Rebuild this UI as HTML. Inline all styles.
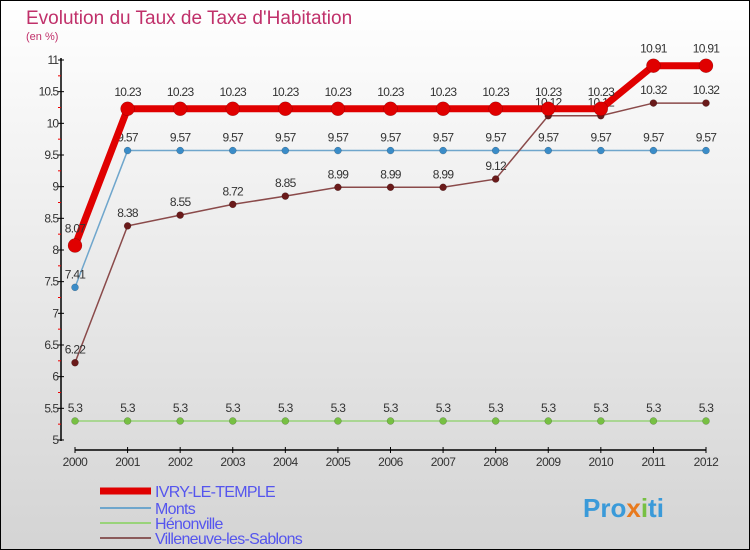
<!DOCTYPE html>
<html><head><meta charset="utf-8"><style>
body{margin:0}
svg{display:block;font-family:"Liberation Sans",sans-serif}
</style></head><body>
<svg id="c" width="750" height="550" xmlns="http://www.w3.org/2000/svg">
<defs><linearGradient id="bg" x1="0" y1="0" x2="0" y2="1"><stop offset="0" stop-color="#ffffff"/><stop offset="1" stop-color="#d4d4d4"/></linearGradient></defs>
<rect x="0.5" y="0.5" width="749" height="549" fill="url(#bg)" stroke="#000"/>
<text x="26" y="24" font-size="19" fill="#c0306a">Evolution du Taux de Taxe d'Habitation</text>
<text x="26" y="40" font-size="11" fill="#c0306a">(en %)</text>
<g id="axes"></g><g id="series"></g><g id="legend"></g>
<text x="583" y="517" font-size="26" font-weight="bold" fill="#3a9ad9">Pro<tspan fill="#e87a1e">x</tspan><tspan fill="#77c043">i</tspan>ti</text>
</svg>
<script>
const years=[2000,2001,2002,2003,2004,2005,2006,2007,2008,2009,2010,2011,2012];
const ivry=[8.07,10.23,10.23,10.23,10.23,10.23,10.23,10.23,10.23,10.23,10.23,10.91,10.91];
const monts=[7.41,9.57,9.57,9.57,9.57,9.57,9.57,9.57,9.57,9.57,9.57,9.57,9.57];
const henon=[5.3,5.3,5.3,5.3,5.3,5.3,5.3,5.3,5.3,5.3,5.3,5.3,5.3];
const ville=[6.22,8.38,8.55,8.72,8.85,8.99,8.99,8.99,9.12,10.12,10.12,10.32,10.32];
const yTicks=[5,5.5,6,6.5,7,7.5,8,8.5,9,9.5,10,10.5,11];
const NS="http://www.w3.org/2000/svg";
const X=i=>75+i*(706-75)/12, Y=v=>60+(11-v)*63.33;
function mk(t,a,p){const e=document.createElementNS(NS,t);for(const k in a)e.setAttribute(k,a[k]);p.appendChild(e);return e;}
const ax=document.getElementById('axes');
let e=mk('line',{x1:61,y1:58,x2:61,y2:441,stroke:'#000','stroke-width':1.5},ax);

e=mk('line',{x1:75,y1:450,x2:706,y2:450,stroke:'#000','stroke-width':1.5},ax);

yTicks.forEach(v=>{mk('line',{x1:58,y1:Y(v),x2:64,y2:Y(v),stroke:'#000'},ax);
 if(v<11)mk('line',{x1:58,y1:Y(v+0.25),x2:61,y2:Y(v+0.25),stroke:'#e00'},ax);
 e=mk('text',{x:58,y:Y(v)+4,'font-size':12,'text-anchor':'end',fill:'#333','letter-spacing':'-1'},ax);e.textContent=v;
 });
years.forEach((y,i)=>{mk('line',{x1:X(i),y1:447,x2:X(i),y2:453,stroke:'#000'},ax);
 e=mk('text',{x:X(i),y:466,'font-size':12,'text-anchor':'middle',fill:'#333','letter-spacing':'-0.5'},ax);e.textContent=y;
 });
const sg=document.getElementById('series'),lg=document.getElementById('legend');
const defs=[['Monts',monts,'#6fa6cc','#3a8cc8',1.5,3.5,'monts'],['Hénonville',henon,'#99d37a','#77c043',1.5,3.5,'henonville'],['Villeneuve-les-Sablons',ville,'#8a4a4a','#6a1a1a',1.5,3.5,'villeneuve'],['IVRY-LE-TEMPLE',ivry,'#e00000','#e00000',7,7,'ivry']];
defs.forEach(([n,d,lc,pc,w,r,k])=>{
 const g=mk('g',{},sg);
 e=mk('polyline',{points:d.map((v,i)=>X(i)+','+Y(v)).join(' '),fill:'none',stroke:lc,'stroke-width':w},g);
 
 d.forEach((v,i)=>{e=mk('circle',{cx:X(i),cy:Y(v),r:r,fill:pc,stroke:'rgba(0,0,0,0.3)','stroke-width':0.5},g);
  
  e=mk('text',{x:X(i),y:Y(v)-(k=='ivry'?13:9),'font-size':12,'text-anchor':'middle',fill:'#333','letter-spacing':'-0.7'},g);e.textContent=v;
  });
});
const leg=[['IVRY-LE-TEMPLE','#e00000',7,491],['Monts','#6fa6cc',2,508],['Hénonville','#99d37a',2,523],['Villeneuve-les-Sablons','#8a5a5a',2,538]];
leg.forEach(([n,c,w,y])=>{const g=mk('g',{},lg);
 mk('line',{x1:100,y1:y,x2:151,y2:y,stroke:c,'stroke-width':w},g);
 e=mk('text',{x:155,y:y+6,'font-size':16,fill:'#5555ee','letter-spacing':'-0.7'},g);e.textContent=n;
 });
</script>
</body></html>
